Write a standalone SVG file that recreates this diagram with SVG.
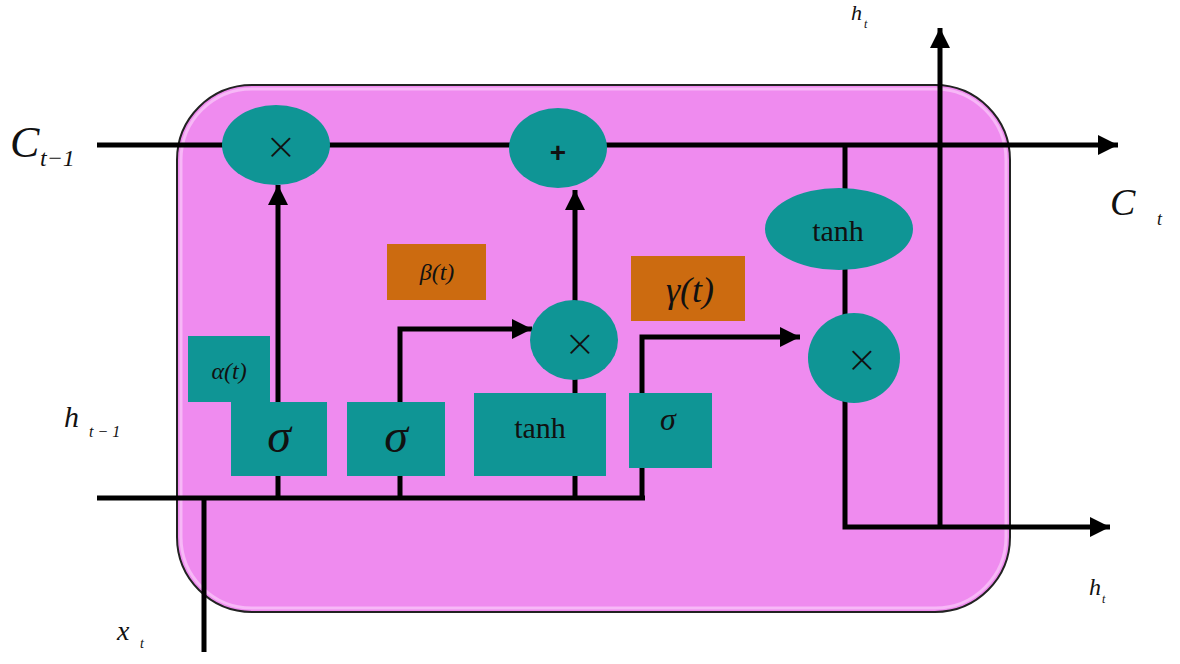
<svg xmlns="http://www.w3.org/2000/svg" width="1180" height="664" viewBox="0 0 1180 664">
<defs>
<marker id="arr" viewBox="0 0 10 10" refX="10" refY="5" markerWidth="5" markerHeight="4" markerUnits="strokeWidth" orient="auto">
<path d="M0,0 L10,5 L0,10 z" fill="#000"/>
</marker>
<style>
.wire{fill:none;stroke:#000;stroke-width:5}
.teal{fill:#0f9595}
.orange{fill:#cc6b10}
.t{font-family:"Liberation Serif",serif;fill:#111;text-anchor:middle}
.it{font-family:"Liberation Serif",serif;font-style:italic;fill:#111}
.op{font-family:"DejaVu Sans",sans-serif;font-weight:200;fill:#111;text-anchor:middle}
</style>
</defs>
<rect width="1180" height="664" fill="#fff"/>
<g id="cell">
<rect x="177" y="85" width="833" height="527" rx="75" ry="75" fill="#ef8bef" stroke="#222" stroke-width="2"/>
<rect x="181" y="89" width="825" height="519" rx="71" ry="71" fill="none" stroke="#f7b8f7" stroke-width="3"/>
</g>
<g id="connectors">
<line class="wire" x1="97" y1="145" x2="1118" y2="145" marker-end="url(#arr)"/>
<line class="wire" x1="97" y1="498" x2="645" y2="498"/>
<line class="wire" x1="204" y1="498" x2="204" y2="652"/>
<line class="wire" x1="278" y1="498" x2="278" y2="185" marker-end="url(#arr)"/>
<polyline class="wire" points="400,498 400,329 532,329" marker-end="url(#arr)"/>
<line class="wire" x1="575" y1="498" x2="575" y2="190" marker-end="url(#arr)"/>
<polyline class="wire" points="642,498 642,337 800,337" marker-end="url(#arr)"/>
<polyline class="wire" points="845,145 845,527 1110,527" marker-end="url(#arr)"/>
<line class="wire" x1="940" y1="527" x2="940" y2="28" marker-end="url(#arr)"/>
</g>
<g id="mult1"><ellipse class="teal" cx="276" cy="145" rx="54" ry="40"/><text class="op" x="281" y="159" font-size="38">×</text></g>
<g id="add"><ellipse class="teal" cx="558" cy="148" rx="49" ry="40"/><text x="558" y="162" font-size="28" font-weight="bold" font-family="Liberation Sans, sans-serif" fill="#111" text-anchor="middle">+</text></g>
<g id="mult2"><ellipse class="teal" cx="574" cy="340" rx="44" ry="40"/><text class="op" x="580" y="356" font-size="38">×</text></g>
<g id="mult3"><ellipse class="teal" cx="854" cy="358" rx="46" ry="45"/><text class="op" x="862" y="372" font-size="38">×</text></g>
<g id="tanh2"><ellipse class="teal" cx="839" cy="229" rx="74" ry="41"/><text class="t" x="838" y="241" font-size="30">tanh</text></g>
<g id="alpha"><rect class="teal" x="188" y="336" width="82" height="66"/><text class="it" x="229" y="379" font-size="24" text-anchor="middle">α(t)</text></g>
<g id="sigma1"><rect class="teal" x="231" y="402" width="96" height="74"/><text class="it" x="279" y="452" font-size="48" text-anchor="middle">σ</text></g>
<g id="sigma2"><rect class="teal" x="347" y="402" width="98" height="74"/><text class="it" x="396" y="452" font-size="48" text-anchor="middle">σ</text></g>
<g id="tanh1"><rect class="teal" x="474" y="393" width="132" height="83"/><text class="t" x="540" y="438" font-size="30">tanh</text></g>
<g id="sigma3"><rect class="teal" x="629" y="393" width="83" height="75"/><text class="it" x="668" y="430" font-size="32" text-anchor="middle">σ</text></g>
<g id="beta"><rect class="orange" x="387" y="244" width="99" height="56"/><text class="it" x="437" y="280" font-size="24" text-anchor="middle">β(t)</text></g>
<g id="gamma"><rect class="orange" x="631" y="256" width="114" height="65"/><text class="it" x="690" y="302" font-size="36" text-anchor="middle">γ(t)</text></g>
<g id="labels">
<text class="it" x="10" y="157" font-size="44">C</text><text class="it" x="40" y="166" font-size="24">t−1</text>
<text class="it" x="64" y="427" font-size="30">h</text><text class="it" x="89" y="437" font-size="16">t − 1</text>
<text class="it" x="117" y="640" font-size="28">x</text><text class="it" x="140" y="648" font-size="14">t</text>
<text class="it" x="851" y="20" font-size="22">h</text><text class="it" x="864" y="28" font-size="12">t</text>
<text class="it" x="1110" y="215" font-size="38">C</text><text class="it" x="1157" y="225" font-size="18">t</text>
<text class="it" x="1089" y="595" font-size="24">h</text><text class="it" x="1102" y="603" font-size="12">t</text>
</g>
</svg>
